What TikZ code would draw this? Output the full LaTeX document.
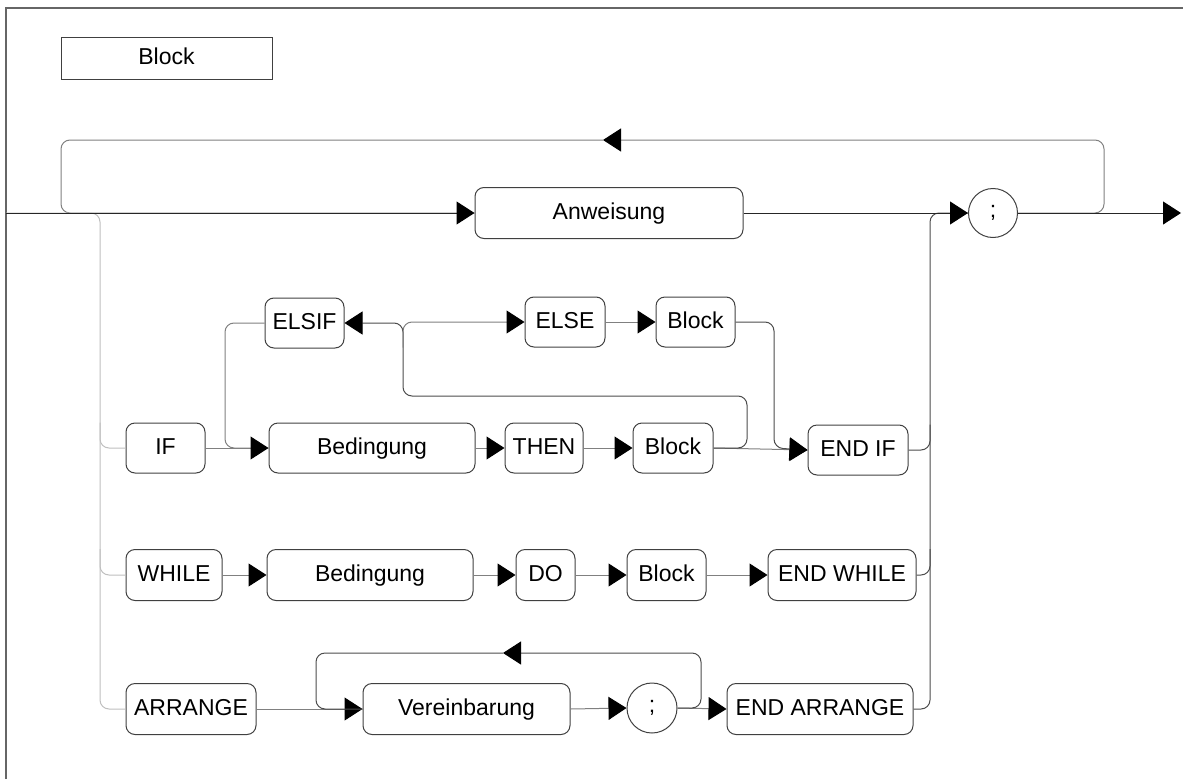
\documentclass[tikz,border=0pt]{standalone}
\usepackage{fontspec}
\setmainfont{Liberation Sans}
\usetikzlibrary{arrows.meta}
\begin{document}
\begin{tikzpicture}[x=1pt,y=-1pt,
  font=\fontsize{23}{27}\selectfont,
  term/.style={draw=black!75, line width=1pt, rounded corners=9pt,
    minimum height=50pt, inner sep=0pt, text height=16.5pt, text depth=4.5pt},
  tok/.style={draw=black!75, line width=1pt, circle, minimum size=49pt, inner sep=0pt},
  wire/.style={draw=black!50, line width=1pt, rounded corners=9pt},
  wireD/.style={draw=black!70, line width=1pt, rounded corners=9pt},
  rail/.style={draw=black!25, line width=1pt, rounded corners=9pt},
  mainwire/.style={draw=black!85, line width=1pt},
  headed/.style={-{Triangle[length=18pt,width=23pt,color=black]}}]
\useasboundingbox (0,0) rectangle (1183,779);

% frame
\draw[black!60, line width=1.5pt] (6,779) -- (6,8) -- (1183,8);

% title
\node[draw=black!75, line width=1pt, minimum width=211pt, minimum height=42pt,
  inner sep=0pt, text height=16.5pt, text depth=4.5pt] (title) at (166.5,58) {Block};

% statement and separator
\node[term, minimum width=268pt, minimum height=51pt] (anw) at (609,213) {Anweisung};
\node[tok] (semi1) at (993,213) {;};

% IF row
\node[term, minimum width=79pt] (if) at (165.5,448) {IF};
\node[term, minimum width=206pt] (bed1) at (372,448) {Bedingung};
\node[term, minimum width=78pt] (then) at (544,448) {THEN};
\node[term, minimum width=80pt] (blk1) at (673,448) {Block};
\node[term, minimum width=100pt] (endif) at (858,450) {END IF};
\node[term, minimum width=79pt] (elsif) at (304.5,323) {ELSIF};
\node[term, minimum width=80pt] (else) at (565,322) {ELSE};
\node[term, minimum width=79pt] (blk2) at (695.5,322) {Block};

% WHILE row
\node[term, minimum width=96pt, minimum height=51pt] (while) at (174,575) {WHILE};
\node[term, minimum width=206pt, minimum height=51pt] (bed2) at (370,575) {Bedingung};
\node[term, minimum width=59pt, minimum height=51pt] (do) at (545.5,575) {DO};
\node[term, minimum width=79pt, minimum height=51pt] (blk3) at (666.5,575) {Block};
\node[term, minimum width=148pt, minimum height=51pt] (endwhile) at (842,575) {END WHILE};

% ARRANGE row
\node[term, minimum width=130pt, minimum height=51pt] (arrange) at (191,709) {ARRANGE};
\node[term, minimum width=207pt, minimum height=51pt] (vere) at (466.5,709) {Vereinbarung};
\node[tok, minimum size=50pt] (semi2) at (652,708) {;};
\node[term, minimum width=186pt, minimum height=51pt] (endarr) at (820,709) {END ARRANGE};

% rail positions
\coordinate (start) at (6,213);
\coordinate (finish) at (1181,213);
\coordinate (loopR) at (1104,140);
\coordinate (loopL) at (61,140);
\coordinate (looptip) at (603,140);
\coordinate (railL) at (100,0);
\coordinate (railR) at (930,0);
\coordinate (elsifX) at (225,0);
\coordinate (midX) at (403,323);
\coordinate (backR) at (747,396);
\coordinate (exitX) at (774,0);
\coordinate (arrL) at (316,0);
\coordinate (arrR) at (701,653);
\coordinate (arrtip) at (503,653);

% repetition loop over the whole statement list
\draw[wire, headed] (semi1.east) -| (loopR) -- (looptip);
\draw[wire] (looptip) -- (loopL) |- (anw.west);

% left distribution rail
\draw[rail] (start) -| (railL |- arrange.west) -- (arrange.west);
\draw[rail] (railL |- if.north) |- (if.west);
\draw[rail] (railL |- while.north) |- (while.west);

% right collecting rail
\draw[wireD] (endarr.east) -| (railR |- anw.east) -- (semi1.west);
\draw[wireD] (endif.east) -| (railR |- endif.north);
\draw[wireD] (endwhile.east) -| (railR |- endwhile.north);

% IF statement
\draw[wire] (elsif.west) -| (elsifX |- if.east) -- (bed1.west);
\draw[wire, headed] (if.east) -- (bed1.west);
\draw[wire, headed] (bed1.east) -- (then.west);
\draw[wire, headed] (then.east) -- (blk1.west);
\draw[wire, headed] (blk1.east) -- (endif.west);
\draw[wireD, headed] (blk1.east) -| (backR) -| (midX) -- (elsif.east);
\draw[wire, headed] (midX |- blk2.south) |- (else.west);
\draw[wire, headed] (else.east) -- (blk2.west);
\draw[wireD, headed] (blk2.east) -| (exitX |- blk1.east) -- (endif.west);

% WHILE statement
\draw[wire, headed] (while.east) -- (bed2.west);
\draw[wire, headed] (bed2.east) -- (do.west);
\draw[wire, headed] (do.east) -- (blk3.west);
\draw[wire, headed] (blk3.east) -- (endwhile.west);

% ARRANGE statement
\draw[wire, headed] (arrange.east) -- (vere.west);
\draw[wire, headed] (vere.east) -- (semi2.west);
\draw[wire, headed] (semi2.east) -- (endarr.west);
\draw[wireD, headed] (semi2.east) -| (arrR) -- (arrtip);
\draw[wireD] (arrtip) -| (arrL |- vere.west) -- (vere.west);

% main line
\draw[mainwire, headed] (start) -- (anw.west);
\draw[mainwire, headed] (anw.east) -- (semi1.west);
\draw[mainwire, headed] (semi1.east) -- (finish);
\end{tikzpicture}
\end{document}
